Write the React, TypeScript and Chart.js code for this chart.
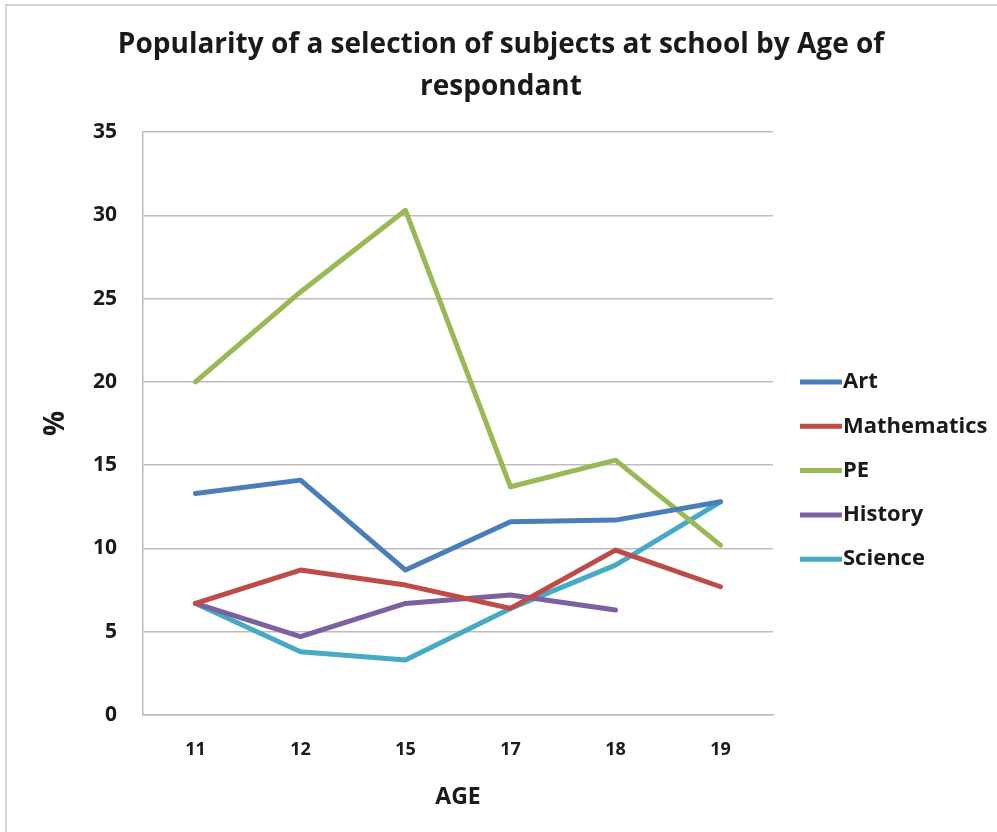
import React, { useEffect, useRef } from "react";
import { Chart, registerables } from "chart.js";

Chart.register(...registerables);

const TITLE_LINES = ["Popularity of a selection of subjects at school by Age of", "respondant"];
const AGES = ["11", "12", "15", "17", "18", "19"];
const SERIES_NAMES = ["Art", "Mathematics", "PE", "History", "Science"];
const ART = [13.3, 14.1, 8.7, 11.6, 11.7, 12.8];
const MATHEMATICS = [6.7, 8.7, 7.8, 6.4, 9.9, 7.7];
const PE = [20.0, 25.4, 30.3, 13.7, 15.3, 10.2];
const HISTORY = [6.7, 4.7, 6.7, 7.2, 6.3, null];
const SCIENCE = [6.7, 3.8, 3.3, 6.4, 9.0, 12.8];
const COLORS = ["#4A7EBB", "#BE4B48", "#98B954", "#7D60A0", "#46AAC5"];
const Y_TICKS = { min: 0, max: 35, step: 5 };
const X_TITLE = "AGE";
const Y_TITLE = "%";

const FONT = "'Open Sans', 'DejaVu Sans', sans-serif";
const TEXT = "#1a1a1a";

const decorPlugin = {
  id: "decor",
  beforeDraw(chart: any) {
    const ctx = chart.ctx;
    ctx.save();
    ctx.strokeStyle = "#d4d4d4";
    ctx.lineWidth = 2;
    ctx.beginPath();
    ctx.moveTo(6, 832);
    ctx.lineTo(6, 5);
    ctx.lineTo(997, 5);
    ctx.stroke();
    ctx.restore();
  },
  afterDraw(chart: any) {
    const ctx = chart.ctx;
    ctx.save();
    // title
    ctx.fillStyle = TEXT;
    ctx.font = `bold 28px ${FONT}`;
    ctx.textAlign = "center";
    ctx.textBaseline = "middle";
    TITLE_LINES.forEach((t, i) => ctx.fillText(t, 501, 45 + i * 42));
    // legend
    ctx.font = `bold 22px ${FONT}`;
    ctx.textAlign = "left";
    chart.data.datasets.forEach((ds: any, i: number) => {
      const y = 382 + i * 44.3;
      ctx.strokeStyle = ds.borderColor;
      ctx.lineWidth = 5;
      ctx.beginPath();
      ctx.moveTo(800, y);
      ctx.lineTo(842, y);
      ctx.stroke();
      ctx.fillStyle = TEXT;
      ctx.fillText(ds.label, 843, y);
    });
    ctx.restore();
  },
};

export default function App() {
  const ref = useRef<HTMLCanvasElement | null>(null);
  useEffect(() => {
    if (!ref.current) return;
    const seriesValues = [ART, MATHEMATICS, PE, HISTORY, SCIENCE];
    const chart = new Chart(ref.current, {
      type: "line",
      data: {
        labels: AGES,
        datasets: SERIES_NAMES.map((name, i) => ({
          label: name,
          data: seriesValues[i],
          borderColor: COLORS[i],
          backgroundColor: COLORS[i],
          borderWidth: 5,
          pointRadius: 0,
          tension: 0,
          spanGaps: false,
          borderJoinStyle: "round" as const,
          borderCapStyle: "round" as const,
        })),
      },
      options: {
        animation: false,
        responsive: true,
        maintainAspectRatio: false,
        layout: { padding: { left: 0, right: 224, top: 132, bottom: 0 } },
        plugins: { legend: { display: false }, title: { display: false }, tooltip: { enabled: false } },
        scales: {
          x: {
            offset: true,
            grid: { display: false, drawTicks: false },
            border: { display: true, color: "#bdbdbd", width: 1.5 },
            ticks: { color: TEXT, font: { family: FONT, size: 18, weight: "bold" }, padding: 24 },
            title: {
              display: true,
              text: X_TITLE,
              color: TEXT,
              font: { family: FONT, size: 23, weight: "bold" },
              padding: { top: 0, bottom: 21 },
            },
            afterFit: (s: any) => {
              s.height = 117;
            },
          },
          y: {
            min: Y_TICKS.min,
            max: Y_TICKS.max,
            ticks: { stepSize: Y_TICKS.step, color: TEXT, font: { family: FONT, size: 21, weight: "bold" }, padding: 26 },
            grid: { color: "#bdbdbd", lineWidth: 1.5, drawTicks: false },
            border: { display: true, color: "#bdbdbd", width: 1.5 },
            title: {
              display: true,
              text: Y_TITLE,
              color: TEXT,
              font: { family: FONT, size: 28, weight: "bold" },
              padding: { top: 39, bottom: 0 },
            },
            afterFit: (s: any) => {
              s.width = 143;
            },
          },
        },
      },
      plugins: [decorPlugin],
    });
    return () => chart.destroy();
  }, []);
  return (
    <div style={{ position: "fixed", left: 0, top: 0, width: 997, height: 832, background: "#fff" }}>
      <canvas ref={ref} />
    </div>
  );
}
